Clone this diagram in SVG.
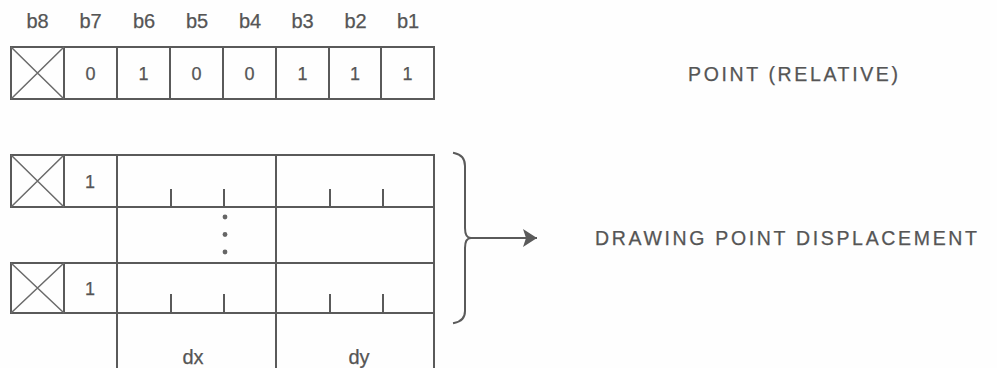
<svg xmlns="http://www.w3.org/2000/svg" width="997" height="368" viewBox="0 0 997 368">
<defs>
<style>
.ln{stroke:#5a5a5a;stroke-width:2;fill:none;stroke-linecap:square}
.x{stroke:#6a6a6a;stroke-width:1.5;fill:none}
.t{font-family:"Liberation Sans",Arial,sans-serif;fill:#555;stroke:#555;stroke-width:0.25;text-anchor:middle}
.hd{font-size:20px}
.dg{font-size:18px}
.lb{font-size:19.5px}
.dot{fill:#666}
</style>
<marker id="ah" markerWidth="14" markerHeight="18" refX="13" refY="9" orient="auto" markerUnits="userSpaceOnUse">
<path d="M0,0 L14,9 L0,18 L3,9 Z" fill="#5a5a5a"/>
</marker>
</defs>
<rect width="997" height="368" fill="#fefefe"/>

<g id="bit-headers" class="t hd">
<text x="37.5" y="28">b8</text>
<text x="90.5" y="28">b7</text>
<text x="144" y="28">b6</text>
<text x="197" y="28">b5</text>
<text x="250" y="28">b4</text>
<text x="302.5" y="28">b3</text>
<text x="355.5" y="28">b2</text>
<text x="408" y="28">b1</text>
</g>

<g id="point-relative-byte">
<rect class="ln" x="11" y="47" width="423" height="52"/>
<path class="ln" d="M64,47V99M117,47V99M170,47V99M223,47V99M276,47V99M329,47V99M381,47V99"/>
<path class="x" d="M11,47L64,99M64,47L11,99"/>
<g class="t dg">
<text x="90.5" y="80">0</text>
<text x="143.5" y="80">1</text>
<text x="196.5" y="80">0</text>
<text x="249.5" y="80">0</text>
<text x="302.5" y="80">1</text>
<text x="355" y="80">1</text>
<text x="407.5" y="80">1</text>
</g>
</g>

<g id="label-point-relative">
<text class="t lb" x="793" y="81" textLength="210" lengthAdjust="spacing">POINT (RELATIVE)</text>
</g>

<g id="displacement-byte-1">
<rect class="ln" x="11" y="155" width="423" height="52"/>
<path class="ln" d="M64,155V207M117,155V207M276,155V207"/>
<path class="x" d="M11,155L64,207M64,155L11,207"/>
<path class="ln" d="M171,190V207M224,190V207M330,190V207M383,190V207"/>
<text class="t dg" x="90" y="188">1</text>
</g>

<g id="continuation">
<path class="ln" d="M117,207V263M276,207V263M434,207V263"/>
<circle class="dot" cx="225" cy="217" r="2.4"/>
<circle class="dot" cx="225" cy="234.5" r="2.4"/>
<circle class="dot" cx="225" cy="252" r="2.4"/>
</g>

<g id="displacement-byte-n">
<rect class="ln" x="11" y="263" width="423" height="50"/>
<path class="ln" d="M64,263V313M117,263V313M276,263V313"/>
<path class="x" d="M11,263L64,313M64,263L11,313"/>
<path class="ln" d="M171,295V313M224,295V313M330,295V313M383,295V313"/>
<text class="t dg" x="90" y="295">1</text>
</g>

<g id="field-labels">
<path class="ln" d="M117,313V368M276,313V368M434,313V368"/>
<text class="t hd" x="193" y="364">dx</text>
<text class="t hd" x="359" y="364">dy</text>
</g>

<g id="connectors">
<path class="ln" d="M454,153Q465,155 465,166L465,228Q465,238 471,238Q465,238 465,248L465,311Q465,321 454,323"/>
<path class="ln" d="M471,238H536" marker-end="url(#ah)"/>
</g>

<g id="label-displacement">
<text class="t lb" x="786" y="245" textLength="382" lengthAdjust="spacing">DRAWING POINT DISPLACEMENT</text>
</g>
</svg>
